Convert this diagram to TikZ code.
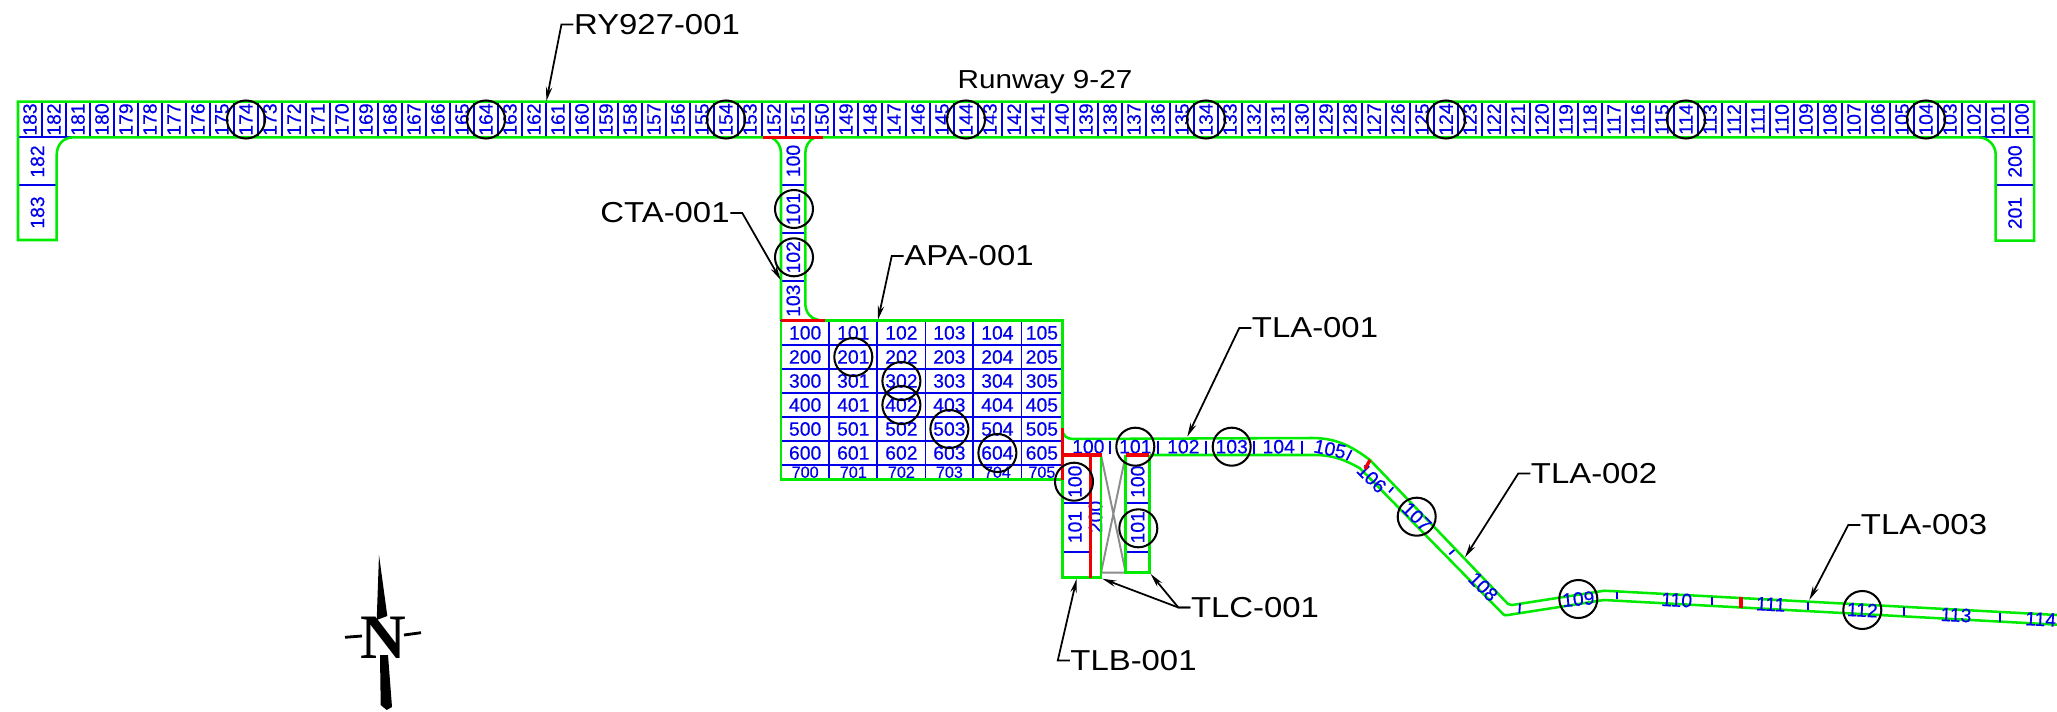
\documentclass[tikz,border=0pt]{standalone}
\usepackage{fontspec}
\setmainfont{Liberation Sans}
\newfontfamily\cadfont[FakeStretch=1.14]{Liberation Sans}
\newfontfamily\numfont[FakeBold=0.4]{Liberation Sans}
\newfontfamily\northfont{Liberation Serif}
\usetikzlibrary{arrows.meta,positioning,calc}

\definecolor{cadgreen}{RGB}{0,235,0}
\definecolor{cadblue}{RGB}{0,0,235}
\definecolor{cadred}{RGB}{240,0,0}

\begin{document}
\begin{tikzpicture}[
    x=0.01cm, y=-0.01cm,
    edge/.style={draw=cadgreen, line width=0.72pt},
    grid/.style={draw=cadblue, line width=0.52pt},
    joint/.style={draw=cadred, line width=0.95pt},
    ghost/.style={draw=black!45, line width=0.55pt},
    num/.style={text=cadblue, font=\numfont\fontsize{5.5}{6}\selectfont, inner sep=0pt},
    numsmall/.style={num, font=\numfont\fontsize{4.6}{5}\selectfont},
    numup/.style={num, rotate=90},
    ring/.style={circle, draw=black, line width=0.58pt, minimum size=0.38cm, inner sep=0pt},
    tag/.style={text=black, font=\cadfont\fontsize{8.2}{9}\selectfont, inner sep=0pt},
    leader/.style={draw=black, line width=0.5pt, -{Stealth[length=4pt,width=1.8pt]}}
]
\useasboundingbox (0,0) rectangle (2057,712);

% runway cells
\foreach \n in {100,...,183} {
    \pgfmathsetmacro{\xr}{2034-(\n-100)*24}
    \draw[grid] (\xr,101.7) -- (\xr,137.3);
    \node[numup] (rw\n) at (\xr-12,119.5) {\n};
}
\draw[grid] (18,137.3) -- (73.7,137.3);
\draw[grid] (1978,137.3) -- (2034,137.3);
\draw[grid] (18,185) -- (56.7,185);
\draw[grid] (1995.7,185.3) -- (2034,185.3);
\node[numup] (rwl182) at (37.5,161.5) {182};
\node[numup] (rwl183) at (37.5,212.5) {183};
\node[numup] (rwr200) at (2015,161.5) {200};
\node[numup] (rwr201) at (2015,213) {201};
\draw[edge] (18,137.3) -- (18,101.7) -- (2034,101.7) -- (2034,240.7) -- (1995.7,240.7) -- (1995.7,155)
    .. controls (1995.7,145) and (1988,137.3) .. (1978,137.3) -- (822.7,137.3);
\draw[edge] (763.3,137.3) -- (73.7,137.3) .. controls (63,137.3) and (56.7,145) .. (56.7,155) -- (56.7,240) -- (18,240) -- (18,137.3);

% connector to the apron
\foreach \y in {185,233,281} {
    \draw[grid] (781,\y) -- (805.3,\y);
}
\node[numup] (cta100) at (793.3,161) {100};
\node[numup] (cta101) at (793.3,209) {101};
\node[numup] (cta102) at (793.3,257.3) {102};
\node[numup] (cta103) at (793.3,300.7) {103};
\draw[edge] (771,137.3) .. controls (777,140) and (781,146) .. (781,153) -- (781,320.7);
\draw[edge] (815,137.3) .. controls (809,140) and (805.3,146) .. (805.3,153) -- (805.3,303)
    .. controls (805.3,312) and (810,320.7) .. (825,320.7);

% apron cells
\foreach \r/\ya/\yb in {1/320.7/345,2/345/369,3/369/393,4/393/417,5/417/441,6/441/465} {
    \foreach \c/\xa/\xb in {0/781/829.3,1/829.3/877.3,2/877.3/925.5,3/925.5/973.3,4/973.3/1021.5,5/1021.5/1062.3} {
        \draw[grid] (\xa,\ya) rectangle (\xb,\yb);
        \node[num] (ap\r0\c) at ({(\xa+\xb)/2},{(\ya+\yb)/2}) {\r0\c};
    }
}
\foreach \c/\xa/\xb in {0/781/829.3,1/829.3/877.3,2/877.3/925.5,3/925.5/973.3,4/973.3/1021.5,5/1021.5/1062.3} {
    \draw[grid] (\xa,465) rectangle (\xb,479.3);
    \node[numsmall] (ap70\c) at ({(\xa+\xb)/2},472.2) {70\c};
}
\draw[edge] (825,320.7) -- (1062.3,320.7) -- (1062.3,428.3);
\draw[edge] (781,320.7) -- (781,479.3) -- (1062.3,479.3);

% taxilane stubs
\draw[ghost] (1101,455) -- (1125.7,572.7) -- (1101,572.7) -- (1125.7,455);
\foreach \y in {503.3,551.7} {
    \draw[grid] (1062.3,\y) -- (1090.3,\y);
    \draw[grid] (1125.7,\y) -- (1149.3,\y);
}
\node[numup] (tlb100) at (1075,481.7) {100};
\node[numup] (tlb101) at (1075,527) {101};
\node[numup] (tlb200) at (1095.5,517) {200};
\node[numup] (tlc100) at (1137.7,481.7) {100};
\node[numup] (tlc101) at (1137.7,527.3) {101};
\draw[edge] (1090.3,577.7) -- (1062.3,577.7) -- (1062.3,455);
\draw[edge] (1090.3,577.7) -- (1101,577.7) -- (1101,455);
\draw[edge] (1125.7,455) -- (1125.7,572.7) -- (1149.3,572.7) -- (1149.3,455);

% taxilane
\draw[edge] (1062.3,428.3) .. controls (1062.3,435) and (1066,439) .. (1073,439) -- (1311.7,438)
    .. controls (1335,438) and (1350,445) .. (1370,460) -- (1508,604) .. controls (1510,605.5) .. (1512,605)
    -- (1604.3,590.7) -- (2057,615);
\draw[edge] (1150,455) -- (1316.7,455) .. controls (1335,455.5) and (1347,461) .. (1360,468.3)
    -- (1503,614) .. controls (1505,615.5) .. (1508,615) -- (1604,600) -- (2057,624.7);
\foreach \xa/\ya/\xb/\yb in {1110/440.7/1110/454,1158/440.7/1158/454,1206/440.7/1206/454,1254/440.7/1254/454,1302.3/440.7/1302.3/454,
    1346.7/460/1351.7/450,1389/492.3/1393.3/487.3,1449.3/554.3/1454.3/550,1519.3/613.3/1520/603.3,1616.7/599/1616.7/591.7,
    1712.3/605/1712.3/596.7,1808.3/610/1808.3/602.3,1904/616/1904/607.3,2000/621.7/2000/612.7} {
    \draw[grid] (\xa,\ya) -- (\xb,\yb);
}
\foreach \n/\xa/\ya/\rr in {100/1088.3/446.7/0,101/1135.3/446.7/0,102/1183.3/446.7/0,103/1231.7/446.7/0,104/1278.7/446.7/0,
    105/1330/449/-12,106/1371.7/478.3/-45,107/1416.7/516.7/-45,108/1483.3/586.7/-45,109/1578.3/599/5,
    110/1676.7/600/-3,111/1770.7/604.3/-3,112/1862.3/610/-3,113/1956/615/-3,114/2040.7/619.3/-3} {
    \node[num, rotate=\rr] (tla\n) at (\xa,\ya) {\n};
}

% red joints
\draw[joint] (763.3,137.3) -- (822.7,137.3);
\draw[joint] (781,320.7) -- (825,320.7);
\draw[joint] (1062.3,428.3) -- (1062.3,480);
\draw[joint] (1062.3,455) -- (1101.7,455);
\draw[joint] (1090.3,455) -- (1090.3,577.7);
\draw[joint] (1125.7,455) -- (1149.3,455);
\draw[joint] (1365,469) -- (1370,460);
\draw[joint] (1741,608.3) -- (1741,597.3);

% rings
\foreach \n in {104,114,124,134,144,154,164,174} {
    \node[ring] (ringrw\n) at (rw\n) {};
}
\node[ring] (ringcta101) at (794,209) {};
\node[ring] (ringcta102) at (794,257.3) {};
\node[ring] (ringap201) at (ap201) {};
\node[ring] (ringap302) at (ap302) {};
\node[ring] (ringap402) at (ap402) {};
\node[ring] (ringap503) at (ap503) {};
\node[ring] (ringap604) at (ap604) {};
\node[ring] (ringtlb100) at (1074,481.7) {};
\node[ring] (ringtlc101) at (1138.3,528.3) {};
\foreach \n in {101,103,107,109,112} {
    \node[ring] (ringtla\n) at (tla\n) {};
}

% tags
\node[tag, font=\cadfont\fontsize{7.4}{9}\selectfont] (runway) at (1045,82.5) {Runway 9-27};
\node[tag] (ry927) at (657,24.5) {RY927-001};
\node[tag] (cta) at (665,213) {CTA-001};
\node[tag] (apa) at (969,256) {APA-001};
\node[tag] (tla1) at (1315,328) {TLA-001};
\node[tag] (tla2) at (1594,473.5) {TLA-002};
\node[tag] (tla3) at (1924,525) {TLA-003};
\node[tag] (tlb) at (1133.5,660.5) {TLB-001};
\node[tag] (tlc) at (1255,607.5) {TLC-001};

\coordinate (ry927tip) at (546.4,101);
\coordinate (ctatip) at (780.7,280);
\coordinate (apatip) at (878,319.7);
\coordinate (tla1tip) at (1187.3,436.7);
\coordinate (tla2tip) at (1465,557.3);
\coordinate (tla3tip) at (1809.3,600);
\coordinate (tlbtip) at (1076.7,578.7);
\coordinate (tlctipa) at (1102.3,578.7);
\coordinate (tlctipb) at (1150.7,574);

\draw[leader] (ry927.west) -- ++(-12,0) -- (ry927tip);
\draw[leader] (cta.east) -- ++(12,0) -- (ctatip);
\draw[leader] (apa.west) -- ++(-12,0) -- (apatip);
\draw[leader] (tla1.west) -- ++(-12,0) -- (tla1tip);
\draw[leader] (tla2.west) -- ++(-12,0) -- (tla2tip);
\draw[leader] (tla3.west) -- ++(-12,0) -- (tla3tip);
\draw[leader] (tlb.west) -- ++(-12,0) -- (tlbtip);
\draw[leader] (tlc.west) -- ++(-12,0) -- (tlctipa);
\draw[leader] (tlc.west) -- ++(-12,0) -- (tlctipb);

% north arrow
\node[font=\northfont\bfseries\fontsize{18}{18}\selectfont, inner sep=0pt] (north) at (383,637.3) {N};
\fill (379,555) -- (387.3,616) -- (376.7,620) -- cycle;
\fill (380,655) -- (388,655) -- (392,707) -- (386.7,710) -- (380.7,705) -- cycle;
\draw[line width=0.8pt] (345,637.3) -- (362,636);
\draw[line width=0.8pt] (404,635) -- (421,632.7);
\end{tikzpicture}
\end{document}
